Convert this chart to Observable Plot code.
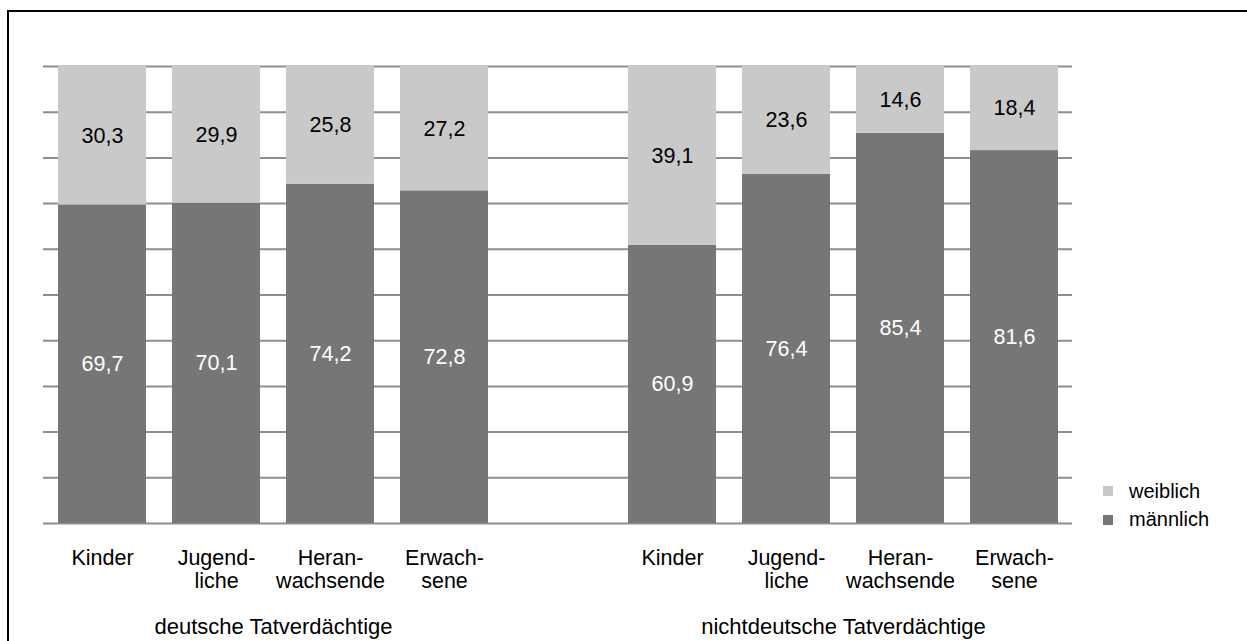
<!DOCTYPE html>
<html><head><meta charset="utf-8">
<script src="https://cdn.jsdelivr.net/npm/d3@7"></script>
<script src="https://cdn.jsdelivr.net/npm/@observablehq/plot@0.6"></script>
<style>
html,body{margin:0;padding:0;background:#fff;overflow:hidden;}
body{font-family:"Liberation Sans",Arial,sans-serif;width:1247px;height:641px;position:relative;}
#frame{position:absolute;left:7px;top:10px;width:1400px;height:800px;border:2px solid #000;box-sizing:border-box;}
#chart{position:absolute;left:0;top:0;}
#legend{position:absolute;left:1103px;top:477px;font-size:20px;color:#000;}
.row{display:flex;align-items:center;height:28.5px;}
.sw{width:10px;height:10px;margin-right:16px;}
</style></head><body>
<div id="frame"></div><div id="chart"></div><div id="legend"></div>
<script>
const slots = ["d0","d1","d2","d3","gap","n0","n1","n2","n3"];
const herkunft = ["deutsche Tatverdächtige","nichtdeutsche Tatverdächtige"];
const altersgruppen = ["Kinder","Jugend-\nliche","Heran-\nwachsende","Erwach-\nsene"];
const geschlecht = ["männlich","weiblich"];
const maennlich = [69.7,70.1,74.2,72.8,60.9,76.4,85.4,81.6];
const weiblich  = [30.3,29.9,25.8,27.2,39.1,23.6,14.6,18.4];
const yTicks = [0,10,20,30,40,50,60,70,80,90,100];
const farben = ["#767676","#c9c9c9"];
const textFarben = ["#ffffff","#000000"];

const barSlots = slots.filter(s => s !== "gap");
const rows = [];
barSlots.forEach((s,i) => {
  rows.push({slot:s, sex:geschlecht[0], value:maennlich[i]});
  rows.push({slot:s, sex:geschlecht[1], value:weiblich[i]});
});
const cats = barSlots.map((s,i) => ({slot:s, label:altersgruppen[i % 4]}));
const groupRows = herkunft.map((h,g) => ({slot: g === 0 ? "d1" : "n1", label:h}));
const fmt = v => d3.format(".1f")(v).replace(".", ",");

const chart = Plot.plot({
  width: 1247,
  height: 641,
  marginTop: 66,
  marginBottom: 118,
  marginLeft: 43,
  marginRight: 175,
  style: {fontFamily: '"Liberation Sans", Arial, sans-serif', fontSize: "21.5px", background: "transparent", overflow: "visible"},
  x: {type: "band", domain: slots, paddingInner: 0.23, paddingOuter: 0.115, axis: null},
  y: {domain: [0, 100], axis: null},
  color: {domain: geschlecht, range: farben},
  marks: [
    Plot.ruleY(yTicks, {stroke: "#8e8e8e", strokeWidth: 2}),
    Plot.barY(rows, Plot.stackY({x: "slot", y: "value", fill: "sex", z: "sex", order: geschlecht})),
    Plot.text(rows, Plot.stackY({x: "slot", y: "value", z: "sex", order: geschlecht, text: d => fmt(d.value),
      fill: d => textFarben[geschlecht.indexOf(d.sex)], fontSize: 21.5})),
    Plot.text(cats, {x: "slot", text: "label", frameAnchor: "bottom", lineAnchor: "top", dy: 24, fontSize: 21.5, lineHeight: 1.115, fill: "#000"}),
    Plot.text(groupRows, {x: "slot", text: "label", frameAnchor: "bottom", lineAnchor: "top", dx: 57, dy: 95, fontSize: 22, fill: "#000"})
  ]
});
document.getElementById("chart").appendChild(chart);

const legend = document.getElementById("legend");
[1, 0].forEach(i => {
  const r = document.createElement("div");
  r.className = "row";
  const sw = document.createElement("span");
  sw.className = "sw";
  sw.style.background = farben[i];
  const t = document.createElement("span");
  t.textContent = geschlecht[i];
  r.appendChild(sw); r.appendChild(t);
  legend.appendChild(r);
});
</script>
</body></html>
